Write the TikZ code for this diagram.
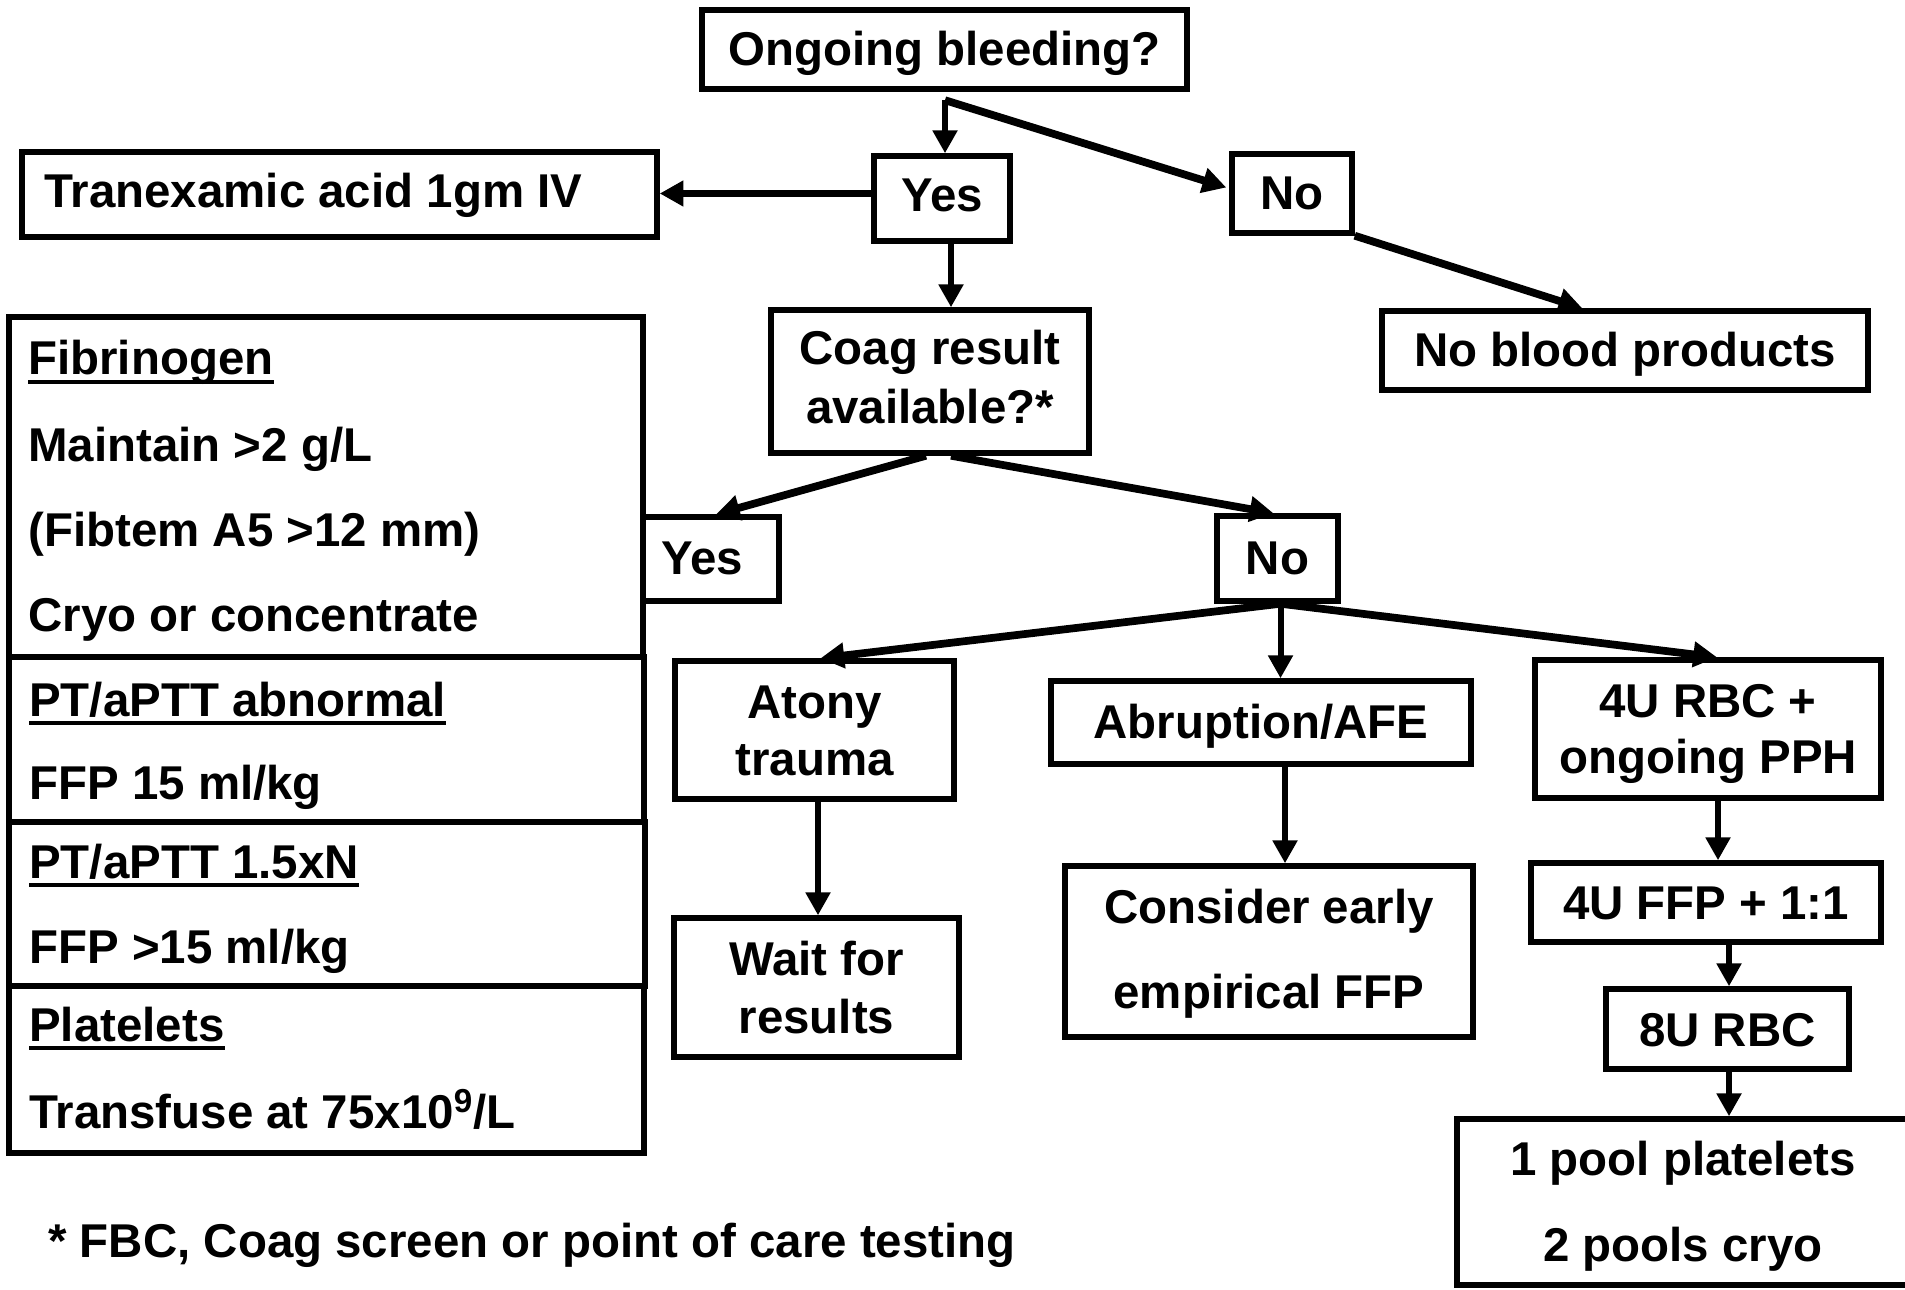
\documentclass[tikz,border=0pt]{standalone}
\usepackage{fontspec}
\setmainfont{Liberation Sans}
\usetikzlibrary{fit,calc,arrows.meta}
\tikzset{
  box/.style={draw, line width=3.1pt, inner sep=0pt},
  txt/.style={inner sep=0pt, anchor=base, font=\bfseries\fontsize{27}{33}\selectfont},
  ltxt/.style={txt, anchor=base west},
  uline/.style={line width=2.3pt},
  arr/.style={draw, line width=3.4pt, -{Triangle[length=13pt,width=13.5pt]}},
  arrthick/.style={draw, line width=4.4pt, -{Triangle[length=13.5pt,width=14pt]}}
}
\begin{document}
\begin{tikzpicture}[x=0.02cm, y=-0.02cm]
\useasboundingbox (0,0) rectangle (1905,1290);
\fill[white] (0,0) rectangle (1905,1290);

% boxes
\node[box, fit={(702,10) (1187,89)}] (ongoing) {};
\node[box, fit={(22,152) (657,237)}] (tran) {};
\node[box, fit={(874,156) (1010,241)}] (yes1) {};
\node[box, fit={(1232,154) (1352,233)}] (no1) {};
\node[box, fit={(1382,311) (1868,390)}] (nbp) {};
\node[box, fit={(771,310) (1089,453)}] (coag) {};
\node[box, fit={(9,317) (643,657)}] (fib) {};
\node[box, fit={(643,517) (779,601)}] (yes2) {};
\node[box, fit={(1217,516) (1338,601)}] (no2) {};
\node[box, fit={(9,657) (644,822)}] (pta) {};
\node[box, fit={(9,822) (645,986)}] (ptn) {};
\node[box, fit={(9,986) (644,1153)}] (plt) {};
\node[box, fit={(675,661) (954,799)}] (atony) {};
\node[box, fit={(1051,681) (1471,764)}] (abr) {};
\node[box, fit={(1535,660) (1881,798)}] (rbc4) {};
\node[box, fit={(674,918) (959,1057)}] (wait) {};
\node[box, fit={(1065,866) (1473,1037)}] (cons) {};
\node[box, fit={(1531,863) (1881,942)}] (ffp4) {};
\node[box, fit={(1606,989) (1849,1069)}] (rbc8) {};
\node[box, fit={(1457,1119) (1914,1285)}] (pool) {};

% texts
\node[txt] (tOng) at (944.5,66) {Ongoing bleeding?};
\node[ltxt] (tTran) at (44,208) {Tranexamic acid 1gm IV};
\node[txt] (tYes1) at (942,212) {Yes};
\node[txt] (tNo1) at (1292,210) {No};
\node[txt] (tNbp) at (1625,367) {No blood products};
\node[txt] (tCoag1) at (930,365) {Coag result};
\node[txt] (tCoag2) at (930,423) {available?*};
\node[txt] (tYes2) at (702,574) {Yes};
\node[txt] (tNo2) at (1277.5,574) {No};
\node[txt] (tAt1) at (814.5,718) {Atony};
\node[txt] (tAt2) at (814.5,775) {trauma};
\node[txt] (tAbr) at (1261,738) {Abruption/AFE};
\node[txt] (tRbc1) at (1708,717) {4U RBC +};
\node[txt] (tRbc2) at (1708,773) {ongoing PPH};
\node[txt] (tW1) at (816.5,975) {Wait for};
\node[txt] (tW2) at (816.5,1033) {results};
\node[txt] (tC1) at (1269,923) {Consider early};
\node[txt] (tC2) at (1269,1008) {empirical FFP};
\node[txt] (tFfp) at (1706,919) {4U FFP + 1:1};
\node[txt] (tRbc8) at (1727.5,1046) {8U RBC};
\node[txt] (tP1) at (1683,1175) {1 pool platelets};
\node[txt] (tP2) at (1683,1261) {2 pools cryo};

\node[ltxt] (tFib) at (28,375) {Fibrinogen};
\node[ltxt] (tMain) at (28,461) {Maintain >2 g/L};
\node[ltxt] (tFibt) at (28,546) {(Fibtem A5 >12 mm)};
\node[ltxt] (tCryo) at (28,631) {Cryo or concentrate};
\node[ltxt] (tPta) at (29,716) {PT/aPTT abnormal};
\node[ltxt] (tF15) at (29,799) {FFP 15 ml/kg};
\node[ltxt] (tPtn) at (29,878) {PT/aPTT 1.5xN};
\node[ltxt] (tF15b) at (29,963) {FFP >15 ml/kg};
\node[ltxt] (tPlt) at (29,1041) {Platelets};
\node[ltxt] (tTrans) at (29,1128) {Transfuse at 75x10\textsuperscript{9}/L};
\node[ltxt] (tFoot) at (48,1257) {* FBC, Coag screen or point of care testing};

% underlines
\foreach \t in {tFib,tPta,tPtn,tPlt}
  \draw[uline] ([yshift=-4pt]\t.base west) -- ([yshift=-4pt]\t.base east);

% connectors
\coordinate (j1) at ($(ongoing.south)+(0.5,8.5)$);
\draw[arr] (j1) -- (j1 |- yes1.north);
\draw[arrthick] (j1) -- ($(no1.west)+(-3,-6)$);
\coordinate (y1w) at ($(yes1.west)+(0,-5)$);
\draw[arrthick] (y1w) -- (y1w -| tran.east);
\coordinate (y1s) at ($(yes1.south)+(9,0)$);
\draw[arr] (y1s) -- (y1s |- coag.north);
\draw[arrthick] (no1.south east) -- ($(nbp.north west)+(203,0)$);
\draw[arrthick] ($(coag.south)+(-4,0)$) -- ($(yes2.north)+(5,0)$);
\draw[arrthick] ($(coag.south)+(21,0)$) -- ($(no2.north)+(-4,0)$);
\coordinate (n2s) at ($(no2.south)+(3,0)$);
\draw[arrthick] (n2s) -- ($(atony.north)+(6,0)$);
\draw[arr] (n2s) -- (n2s |- abr.north);
\draw[arrthick] (n2s) -- ($(rbc4.north)+(9,0)$);
\coordinate (ats) at ($(atony.south)+(3.5,0)$);
\draw[arr] (ats) -- (ats |- wait.north);
\coordinate (abs) at ($(abr.south)+(24,0)$);
\draw[arr] (abs) -- (abs |- cons.north);
\coordinate (r4s) at ($(rbc4.south)+(10,0)$);
\draw[arr] (r4s) -- (r4s |- ffp4.north);
\coordinate (f4s) at ($(ffp4.south)+(23,0)$);
\draw[arr] (f4s) -- (f4s |- rbc8.north);
\coordinate (r8s) at ($(rbc8.south)+(1.5,0)$);
\draw[arr] (r8s) -- (r8s |- pool.north);
\end{tikzpicture}
\end{document}
